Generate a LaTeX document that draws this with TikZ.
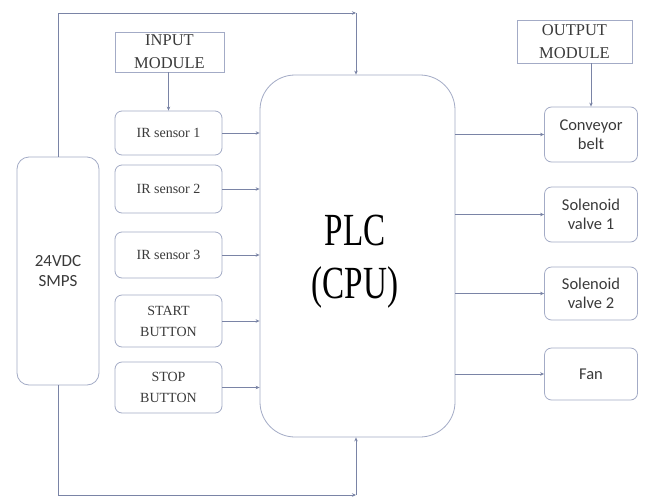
\documentclass[tikz,border=0pt]{standalone}
\usepackage{fontspec}
\setmainfont{Liberation Serif}
\newfontfamily\calib{Carlito}
\usetikzlibrary{arrows.meta}
\definecolor{boxc}{HTML}{A3ABC6}
\definecolor{linec}{HTML}{7A84A6}
\definecolor{txtc}{HTML}{3A3A3A}
\tikzset{
  inbox/.style={draw=boxc, line width=0.8pt, rounded corners=7pt, minimum width=107pt, text=txtc, align=center, font=\fontsize{14}{21}\selectfont, inner sep=1pt},
  outbox/.style={draw=boxc, line width=0.8pt, rounded corners=7pt, minimum width=93pt, text=txtc, align=center, font=\calib\fontsize{16.5}{19.5}\selectfont, inner sep=1pt},
  modbox/.style={draw=boxc, line width=0.8pt, sharp corners, text=txtc, align=center, font=\fontsize{16.5}{23}\selectfont, inner sep=1pt},
  arr/.style={draw=linec, line width=0.7pt, -{Stealth[length=4pt,width=3.5pt]}},
}
\begin{document}
\begin{tikzpicture}[x=1pt,y=-1pt]
\useasboundingbox (0,0) rectangle (668,498);
\fill[white] (0,0) rectangle (668,498);
% power
\node[draw=boxc, line width=0.8pt, rounded corners=12pt, minimum width=82pt, minimum height=228pt, text=txtc, align=center, font=\calib\fontsize{17}{20}\selectfont] (smps) at (58,271) {24VDC\\SMPS};
% PLC
\node[draw=boxc, line width=0.8pt, rounded corners=35pt, minimum width=195pt, minimum height=362pt] (plc) at (357.5,256) {};
\node[text=black, align=center, font=\fontsize{46}{53}\selectfont] (plct) at (355,262) {\scalebox{0.72}[1]{PLC}\\\scalebox{0.72}[1]{(CPU)}};
% input side
\node[modbox, minimum width=109pt, minimum height=40pt] (inmod) at (169.5,52) {INPUT\\MODULE};
\node[inbox, minimum height=44pt] (ir1) at (168.5,133) {IR sensor 1};
\node[inbox, minimum height=48pt] (ir2) at (168.5,189) {IR sensor 2};
\node[inbox, minimum height=46pt] (ir3) at (168.5,255) {IR sensor 3};
\node[inbox, minimum height=52pt] (start) at (168.5,321) {START\\BUTTON};
\node[inbox, minimum height=51pt] (stop) at (168.5,387.5) {STOP\\BUTTON};
% output side
\node[modbox, minimum width=115pt, minimum height=43pt] (outmod) at (574.5,41.5) {OUTPUT\\MODULE};
\node[outbox, minimum height=55pt] (conv) at (591,134.5) {Conveyor\\belt};
\node[outbox, minimum height=55pt] (sv1) at (591,214.5) {Solenoid\\valve 1};
\node[outbox, minimum height=53pt] (sv2) at (591,293.5) {Solenoid\\valve 2};
\node[outbox, minimum height=52pt] (fan) at (591,374) {Fan};
% coordinates for power loop
\coordinate (tc) at (356,13);
\coordinate (bc) at (356,495);
% connectors
\draw[arr] (smps.north) |- (tc);
\draw[arr] (tc) -- (plc.north -| tc);
\draw[arr] (smps.south) |- (bc);
\draw[arr] (bc) -- (plc.south -| bc);
\draw[arr] (inmod.south -| ir1.north) -- (ir1.north);
\draw[arr] (outmod.south -| conv.north) -- (conv.north);
\foreach \n in {ir1,ir2,ir3,start,stop}
  \draw[arr] (\n.east) -- (\n.east -| plc.west);
\draw[arr] (plc.east |- conv.west) -- (conv.west);
\draw[arr] (plc.east |- sv1.west) -- (sv1.west);
\draw[arr] (plc.east |- sv2.west) -- (sv2.west);
\draw[arr] (plc.east |- fan.west) -- (fan.west);
\end{tikzpicture}
\end{document}
